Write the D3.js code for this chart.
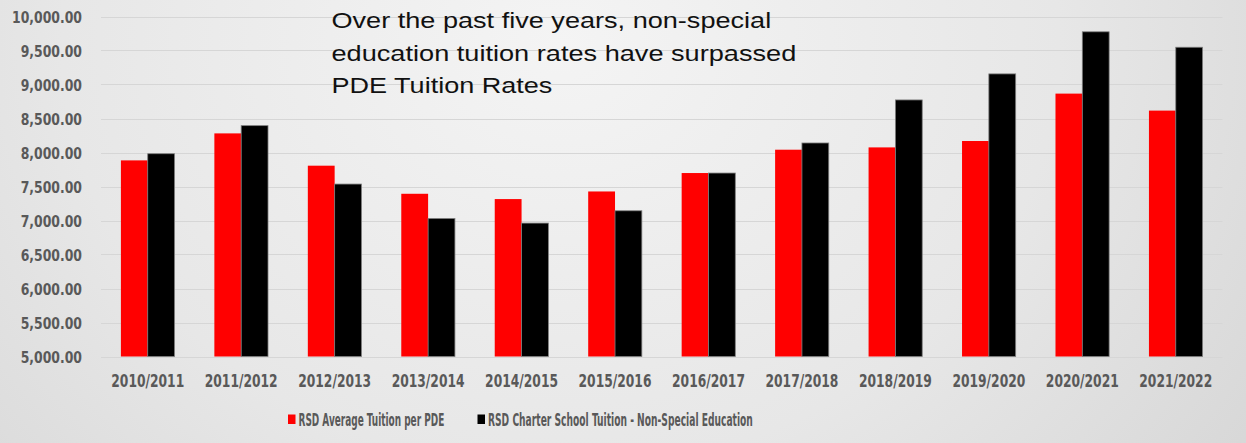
<!DOCTYPE html>
<html>
<head>
<meta charset="utf-8">
<script src="https://cdn.jsdelivr.net/npm/d3@7"></script>
<style>
  html, body { margin: 0; padding: 0; }
  body { width: 1246px; height: 443px; overflow: hidden; }
</style>
</head>
<body>
<svg id="chart" width="1246" height="443"></svg>
<script>
const categories = ["2010/2011","2011/2012","2012/2013","2013/2014","2014/2015","2015/2016","2016/2017","2017/2018","2018/2019","2019/2020","2020/2021","2021/2022"];
const seriesNames = ["RSD Average Tuition per PDE", "RSD Charter School Tuition - Non-Special Education"];
const pdeTuition = [7884, 8281, 7806, 7393, 7315, 7427, 7698, 8041, 8075, 8169, 8866, 8616];
const charterTuition = [7982, 8395, 7536, 7030, 6962, 7143, 7698, 8140, 8773, 9156, 9775, 9548];
const yTicks = [5000, 5500, 6000, 6500, 7000, 7500, 8000, 8500, 9000, 9500, 10000];
const titleLines = ["Over the past five years, non-special", "education tuition rates have surpassed", "PDE Tuition Rates"];
const seriesColors = ["#ff0000", "#000000"];

const W = 1246, H = 443;
const svg = d3.select("#chart");
const condensed = "'DejaVu Sans Condensed', 'Liberation Sans Narrow', sans-serif";

// background gradient
const defs = svg.append("defs");
const rg = defs.append("radialGradient").attr("id", "bg")
  .attr("cx", "0.45").attr("cy", "0.1").attr("r", "0.8")
  .attr("gradientTransform", "translate(0.45,0.1) scale(1,2.4) translate(-0.45,-0.1)");
rg.append("stop").attr("offset", "0").attr("stop-color", "#f4f4f4");
rg.append("stop").attr("offset", "0.5").attr("stop-color", "#e7e7e7");
rg.append("stop").attr("offset", "1").attr("stop-color", "#d0d0d0");
svg.append("rect").attr("width", W).attr("height", H).attr("fill", "url(#bg)");

const plot = { left: 101, right: 1222.5, top: 16.5, bottom: 356.5 };

const x0 = d3.scaleBand().domain(categories)
  .range([plot.left, plot.right])
  .paddingInner(0.426).paddingOuter(0.213);
const x1 = d3.scaleBand().domain([0, 1]).range([0, x0.bandwidth()]);
const y = d3.scaleLinear().domain([5000, 10000]).range([plot.bottom, plot.top]);

// horizontally condense a text around its anchor point by factor sx
function squeezeAt(node, sx) {
  const t = d3.select(node);
  const x = +t.attr("x") || 0;
  t.attr("transform", `translate(${x},0) scale(${sx},1) translate(${-x},0)`);
}

// gridlines
svg.append("g").selectAll("line").data(yTicks).join("line")
  .attr("x1", plot.left).attr("x2", plot.right)
  .attr("y1", d => Math.round(y(d)) + 0.5).attr("y2", d => Math.round(y(d)) + 0.5)
  .attr("stroke", "#d6d6d6").attr("stroke-width", 1);

// y axis
const fmt = d3.format(",.2f");
const yAxis = d3.axisLeft(y).tickValues(yTicks).tickFormat(fmt).tickSize(0).tickPadding(0);
const yg = svg.append("g").attr("transform", `translate(82,0)`).call(yAxis);
yg.select(".domain").remove();
const yTexts = yg.selectAll("text")
  .attr("fill", "#595959")
  .attr("font-family", condensed)
  .attr("font-weight", "bold")
  .attr("font-size", "16.5px")
  .attr("dy", "0.36em");
{
  const ref = yTexts.filter(d => d === 10000).node().getComputedTextLength();
  yTexts.each(function() { squeezeAt(this, 70 / ref); });
}

// x axis
const xAxis = d3.axisBottom(x0).tickSize(0).tickPadding(0);
const xg = svg.append("g").attr("transform", `translate(0,${plot.bottom})`).call(xAxis);
xg.select(".domain").remove();
const xTexts = xg.selectAll("text")
  .attr("fill", "#595959")
  .attr("font-family", condensed)
  .attr("font-weight", "bold")
  .attr("font-size", "18px")
  .attr("y", 30.5).attr("dy", 0);
{
  const ref = xTexts.filter(d => d === categories[0]).node().getComputedTextLength();
  xTexts.each(function() { squeezeAt(this, 73 / ref); });
}

// bars
const data = categories.map((c, i) => ({ cat: c, vals: [pdeTuition[i], charterTuition[i]] }));
const groups = svg.append("g").selectAll("g").data(data).join("g")
  .attr("transform", d => `translate(${x0(d.cat)},0)`);
groups.selectAll("rect").data(d => d.vals.map((v, k) => ({ v, k }))).join("rect")
  .attr("x", d => x1(d.k))
  .attr("width", x1.bandwidth())
  .attr("y", d => y(d.v))
  .attr("height", d => y(5000) - y(d.v))
  .attr("fill", d => seriesColors[d.k])
  .attr("stroke", d => d.k === 1 ? "#7f7f7f" : "none")
  .attr("stroke-width", 0.8);

// legend
const legendX = [288, 477.5];
const legendW = [146, 265];
const lg = svg.append("g").selectAll("g").data(seriesNames).join("g")
  .attr("transform", (d, i) => `translate(${legendX[i]},0)`);
lg.append("rect").attr("x", 0).attr("y", 414.5).attr("width", 7.5).attr("height", 9.5)
  .attr("fill", (d, i) => seriesColors[i]);
lg.append("text").attr("x", 10.5).attr("y", 426)
  .attr("fill", "#595959")
  .attr("font-family", condensed)
  .attr("font-weight", "bold")
  .attr("font-size", "17px")
  .text(d => d)
  .each(function(d, i) { squeezeAt(this, legendW[i] / this.getComputedTextLength()); });

// title annotation
const titleW = [440, 465, 221];
svg.append("g").selectAll("text").data(titleLines).join("text")
  .attr("x", 331.5)
  .attr("y", (d, i) => 28.5 + i * 32.5)
  .attr("fill", "#111")
  .attr("font-family", "'Liberation Sans', Arial, sans-serif")
  .attr("font-size", "22px")
  .text(d => d)
  .each(function(d, i) { squeezeAt(this, titleW[i] / this.getComputedTextLength()); });
</script>
</body>
</html>
